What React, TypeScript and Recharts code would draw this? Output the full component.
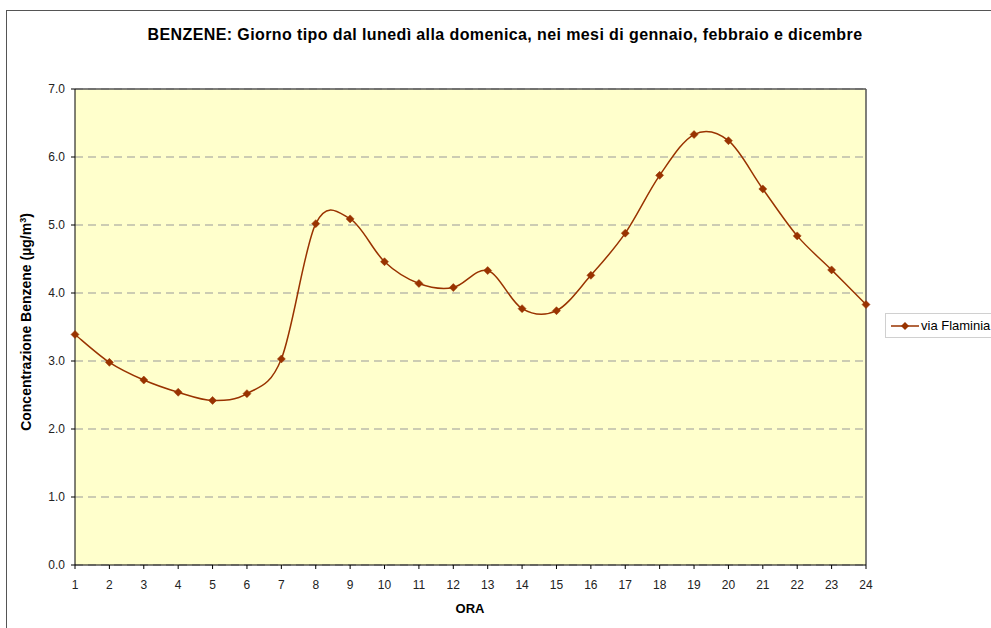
import { LineChart, Line, XAxis, YAxis, CartesianGrid, ReferenceLine } from 'recharts';

const hours = [1, 2, 3, 4, 5, 6, 7, 8, 9, 10, 11, 12, 13, 14, 15, 16, 17, 18, 19, 20, 21, 22, 23, 24];
const benzene = [
  3.39, 2.98, 2.72, 2.54, 2.42, 2.52, 3.03, 5.02, 5.09, 4.46, 4.14, 4.08,
  4.33, 3.77, 3.74, 4.26, 4.88, 5.73, 6.33, 6.24, 5.53, 4.84, 4.34, 3.83,
];
const yTicks = [0, 1, 2, 3, 4, 5, 6, 7];
const seriesName = 'via Flaminia';

const data = hours.map((h, i) => ({ ora: h, value: benzene[i] }));

const FONT = '"Liberation Sans", Arial, sans-serif';
const BROWN = '#993300';

// Excel-style smoothed line (Catmull-Rom through the points)
function smoothCurve(context: any) {
  let xs: number[] = [];
  let ys: number[] = [];
  return {
    areaStart() {},
    areaEnd() {},
    lineStart() {
      xs = [];
      ys = [];
    },
    lineEnd() {
      const n = xs.length;
      if (!n) return;
      context.moveTo(xs[0], ys[0]);
      for (let i = 0; i < n - 1; i++) {
        const p0 = i > 0 ? i - 1 : i;
        const p3 = i + 2 < n ? i + 2 : i + 1;
        const c1x = xs[i] + (xs[i + 1] - xs[p0]) / 6;
        const c1y = ys[i] + (ys[i + 1] - ys[p0]) / 6;
        const c2x = xs[i + 1] - (xs[p3] - xs[i]) / 6;
        const c2y = ys[i + 1] - (ys[p3] - ys[i]) / 6;
        context.bezierCurveTo(c1x, c1y, c2x, c2y, xs[i + 1], ys[i + 1]);
      }
    },
    point(x: number, y: number) {
      xs.push(+x);
      ys.push(+y);
    },
  };
}

const Diamond = (props: any) => {
  const { cx, cy } = props;
  if (cx == null || cy == null) return null;
  const r = 4;
  return (
    <polygon
      points={`${cx},${cy - r} ${cx + r},${cy} ${cx},${cy + r} ${cx - r},${cy}`}
      fill={BROWN}
      stroke={BROWN}
      strokeWidth={0.5}
    />
  );
};

export default function App() {
  return (
    <div
      style={{
        position: 'absolute',
        left: 0,
        top: 0,
        width: 991,
        height: 628,
        overflow: 'hidden',
        background: '#fff',
        fontFamily: FONT,
      }}
    >
      <div
        style={{
          position: 'absolute',
          left: 6,
          top: 10,
          width: 1000,
          height: 700,
          borderLeft: '1.5px solid #555',
          borderTop: '1.5px solid #555',
        }}
      />
      <div
        style={{
          position: 'absolute',
          left: 0,
          top: 26,
          width: 1010,
          textAlign: 'center',
          fontSize: 16,
          letterSpacing: 0.4,
          fontWeight: 'bold',
          color: '#000',
        }}
      >
        BENZENE: Giorno tipo dal lunedì alla domenica, nei mesi di gennaio, febbraio e dicembre
      </div>
      <div
        style={{
          position: 'absolute',
          left: 26 - 150,
          top: 322 - 9,
          width: 300,
          height: 18,
          lineHeight: '18px',
          textAlign: 'center',
          fontSize: 14,
          fontWeight: 'bold',
          color: '#000',
          transform: 'rotate(-90deg)',
        }}
      >
        Concentrazione Benzene (µg/m<sup style={{ fontSize: 9, verticalAlign: 'top', lineHeight: '12px' }}>3</sup>)
      </div>
      <div
        style={{
          position: 'absolute',
          left: 420,
          top: 601,
          width: 100,
          textAlign: 'center',
          fontSize: 13,
          fontWeight: 'bold',
          color: '#000',
        }}
      >
        ORA
      </div>
      <LineChart
        width={991}
        height={628}
        data={data}
        margin={{ top: 89, right: 125, bottom: 33, left: 0 }}
        style={{ position: 'absolute', left: 0, top: 0 }}
      >
        <CartesianGrid
          vertical={false}
          fill="#FFFFCC"
          stroke="#999"
          strokeDasharray="8 5"
        />
        <XAxis
          dataKey="ora"
          type="number"
          domain={[1, 24]}
          ticks={hours}
          interval={0}
          height={30}
          tickSize={4}
          tickMargin={11}
          axisLine={{ stroke: '#000' }}
          tickLine={{ stroke: '#000' }}
          tick={{ fontSize: 12, fill: '#222', fontFamily: FONT }}
        />
        <YAxis
          domain={[0, 7]}
          ticks={yTicks}
          interval={0}
          width={75}
          tickSize={4}
          tickMargin={6}
          tickFormatter={(v: number) => v.toFixed(1)}
          axisLine={{ stroke: '#000' }}
          tickLine={{ stroke: '#000' }}
          tick={{ fontSize: 12, fill: '#222', fontFamily: FONT }}
        />
        <ReferenceLine y={7} stroke="#555" strokeWidth={1.5} />
        <ReferenceLine x={24} stroke="#555" strokeWidth={1.5} />
        <Line
          dataKey="value"
          name={seriesName}
          type={smoothCurve as any}
          stroke={BROWN}
          strokeWidth={1.5}
          dot={<Diamond />}
          activeDot={false}
          isAnimationActive={false}
        />
      </LineChart>
      <div
        style={{
          position: 'absolute',
          left: 885,
          top: 313,
          display: 'flex',
          alignItems: 'center',
          border: '1px solid #d0d0d0',
          background: '#fff',
          height: 25,
          paddingLeft: 4,
          width: 130,
          boxSizing: 'border-box',
          fontSize: 13,
          color: '#000',
          whiteSpace: 'nowrap',
        }}
      >
        <svg width={30} height={10} style={{ marginRight: 1 }}>
          <line x1={1} y1={5} x2={29} y2={5} stroke={BROWN} strokeWidth={1.5} />
          <polygon points="15,1 19,5 15,9 11,5" fill={BROWN} />
        </svg>
        <span>{seriesName}</span>
      </div>
    </div>
  );
}
